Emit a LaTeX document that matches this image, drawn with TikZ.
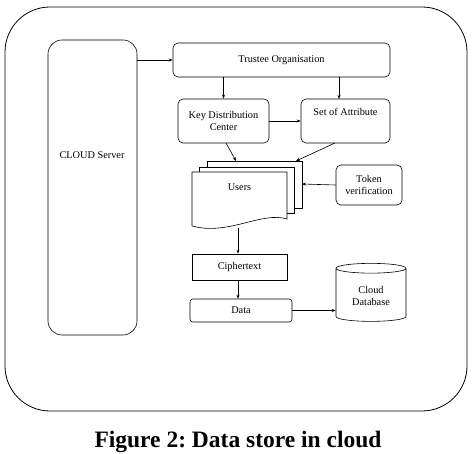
\documentclass[tikz,border=0pt]{standalone}
\usepackage{fontspec}
\setmainfont{Liberation Serif}
\frenchspacing
\usetikzlibrary{arrows.meta,
                positioning,
                shapes.geometric
                }

\begin{document}
\begin{tikzpicture}[
        x = 1pt, y = -1pt,
        every node/.style = {font=\fontsize{10.3}{12}\selectfont},
        rbox/.style = {draw, rounded corners=5pt, line width=0.6pt, align=center},
        sbox/.style = {draw, line width=0.6pt, align=center},
        page/.style = {draw, fill=white, line width=0.6pt},
        arr/.style = {-{Stealth[length=4pt,width=3pt]}, line width=0.6pt}
    ]
    \useasboundingbox (0,0) rectangle (476,454);
    % outer frame
    \draw[line width=0.8pt, rounded corners=45pt] (5,7) rectangle (467,411);
    % server
    \node (cloud) [rbox, rounded corners=14pt, minimum width=89pt, minimum height=295pt]
        at (92.5,187.5) {};
    \node (cloudlbl) at (92,155) {CLOUD Server};
    % upper row
    \node (trust) [rbox, minimum width=217pt, minimum height=34pt] at (281.5,60)
        {Trustee Organisation};
    \node (kdc) [rbox, minimum width=91pt, minimum height=44pt] at (223.5,121)
        {Key Distribution\\Center};
    \node (attr) [rbox, minimum width=89pt, minimum height=44pt, text depth=18pt]
        at (345.5,121) {Set of Attribute};
    % users (stacked pages)
    \draw[page] (207,161) rectangle (302,208);
    \draw[page] (199,167) rectangle (294,213);
    \draw[page] (192,172) -- (287,172) -- (287,219)
        .. controls (262,211) and (228,236) .. (192,226) -- cycle;
    \node (users) [minimum width=95pt, minimum height=56pt, text depth=26pt]
        at (239.5,200) {Users};
    \coordinate (uin1) at (236,161);
    \coordinate (uin2) at (296,161);
    \coordinate (uin3) at (302,184);
    \node (token) [rbox, minimum width=66pt, minimum height=40pt] at (369,185)
        {Token\\verification};
    % lower column
    \node (cipher) [sbox, minimum width=95pt, minimum height=26pt] at (239.5,267)
        {Ciphertext};
    \node (data) [rbox, rounded corners=3pt, minimum width=102pt, minimum height=23pt]
        at (241,310.5) {Data};
    \node (db) [cylinder, shape border rotate=90, draw, line width=0.6pt, aspect=0.22,
        minimum width=70pt, minimum height=58pt, align=center] at (371,296)
        {Cloud\\Database};
    % connectors
    \draw[arr] (trust.west -| cloud.east) -- (trust.west);
    \draw[arr] (trust.south -| kdc.north) -- (kdc.north);
    \draw[arr] (trust.south -| 339,0) -- (339,99);
    \draw[arr] (kdc.east) -- (attr.west);
    \draw[arr] (226,143) -- (uin1);
    \draw[arr] (335,143) -- (uin2);
    \draw[arr] (token.west) -- (uin3);
    \draw[arr] (238,228) -- (cipher.north -| 238,0);
    \draw[arr] (cipher.south -| 238,0) -- (data.north -| 238,0);
    \draw[arr] (data.east) -- (data.east -| db.west);
    % caption
    \node (caption) [font=\fontsize{23.5}{28}\selectfont\bfseries] at (238,442)
        {Figure 2: Data store in cloud};
\end{tikzpicture}
\end{document}
